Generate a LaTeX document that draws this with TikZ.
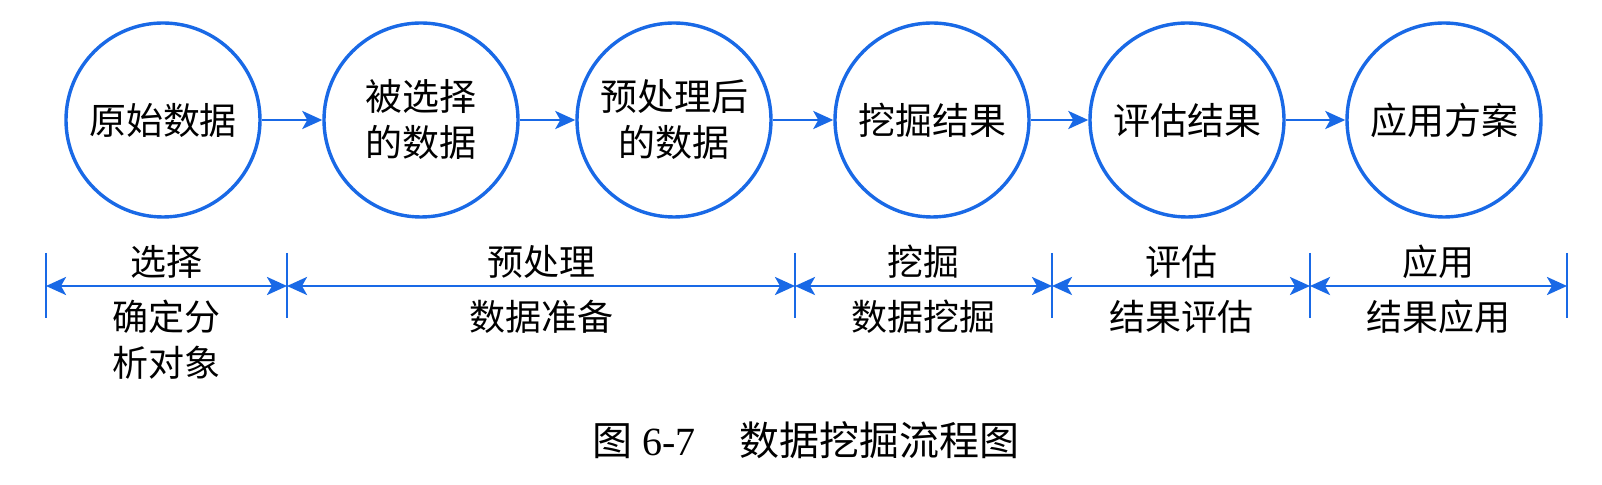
\documentclass[tikz,border=0pt]{standalone}
\usepackage{fontspec}
\setmainfont{Liberation Serif}
\newfontfamily\cjk{Noto Sans CJK SC}
\usetikzlibrary{arrows.meta}
\definecolor{lineblue}{RGB}{25,105,230}
\begin{document}
\begin{tikzpicture}[x=0.5pt,y=-0.5pt,
  stage/.style={circle,draw=lineblue,line width=1.7pt,minimum size=97pt,inner sep=0pt,align=center,font=\cjk\fontsize{18.5}{23}\selectfont},
  flow/.style={draw=lineblue,line width=1.4pt,-{Stealth[length=10pt,width=9pt,inset=2.5pt]}},
  span/.style={draw=lineblue,line width=1.4pt,{Stealth[length=10pt,width=9pt,inset=2.5pt]}-{Stealth[length=10pt,width=9pt,inset=2.5pt]}},
  tickline/.style={draw=lineblue,line width=1.4pt},
  lab/.style={font=\cjk\fontsize{18}{23}\selectfont,align=center,inner sep=0pt},
  captext/.style={font=\fontsize{20}{24}\selectfont,inner sep=0pt}]
\useasboundingbox (0,0) rectangle (1602,485);
\fill[white] (0,0) rectangle (1602,485);
% stages
\node[stage] (c1) at (163,120) {原始数据};
\node[stage] (c2) at (421,120) {被选择\\的数据};
\node[stage] (c3) at (674,120) {预处理后\\的数据};
\node[stage] (c4) at (932,120) {挖掘结果};
\node[stage] (c5) at (1187,120) {评估结果};
\node[stage] (c6) at (1444,120) {应用方案};
\draw[flow] (c1) -- (c2);
\draw[flow] (c2) -- (c3);
\draw[flow] (c3) -- (c4);
\draw[flow] (c4) -- (c5);
\draw[flow] (c5) -- (c6);
% ticks
\foreach \n/\x in {1/46,2/287,3/795,4/1052,5/1310,6/1567}{
  \coordinate (t\n) at (\x,253);
  \coordinate (b\n) at (\x,318);
  \coordinate (m\n) at (\x,286);
  \draw[tickline] (t\n) -- (b\n);
}
\draw[span] (m1) -- (m2);
\draw[span] (m2) -- (m3);
\draw[span] (m3) -- (m4);
\draw[span] (m4) -- (m5);
\draw[span] (m5) -- (m6);
% labels
\node[lab] (a1) at (166,262) {选择};
\node[lab] (a2) at (541,262) {预处理};
\node[lab] (a3) at (923,262) {挖掘};
\node[lab] (a4) at (1181,262) {评估};
\node[lab] (a5) at (1438,262) {应用};
\node[lab] (d1) at (166,340) {确定分\\析对象};
\node[lab] (d2) at (541,317) {数据准备};
\node[lab] (d3) at (923,317) {数据挖掘};
\node[lab] (d4) at (1181,317) {结果评估};
\node[lab] (d5) at (1438,317) {结果应用};
% caption
\node[captext] (caption) at (806,440) {{\cjk 图}~6-7\hspace{1.1em}{\cjk 数据挖掘流程图}};
\end{tikzpicture}
\end{document}
